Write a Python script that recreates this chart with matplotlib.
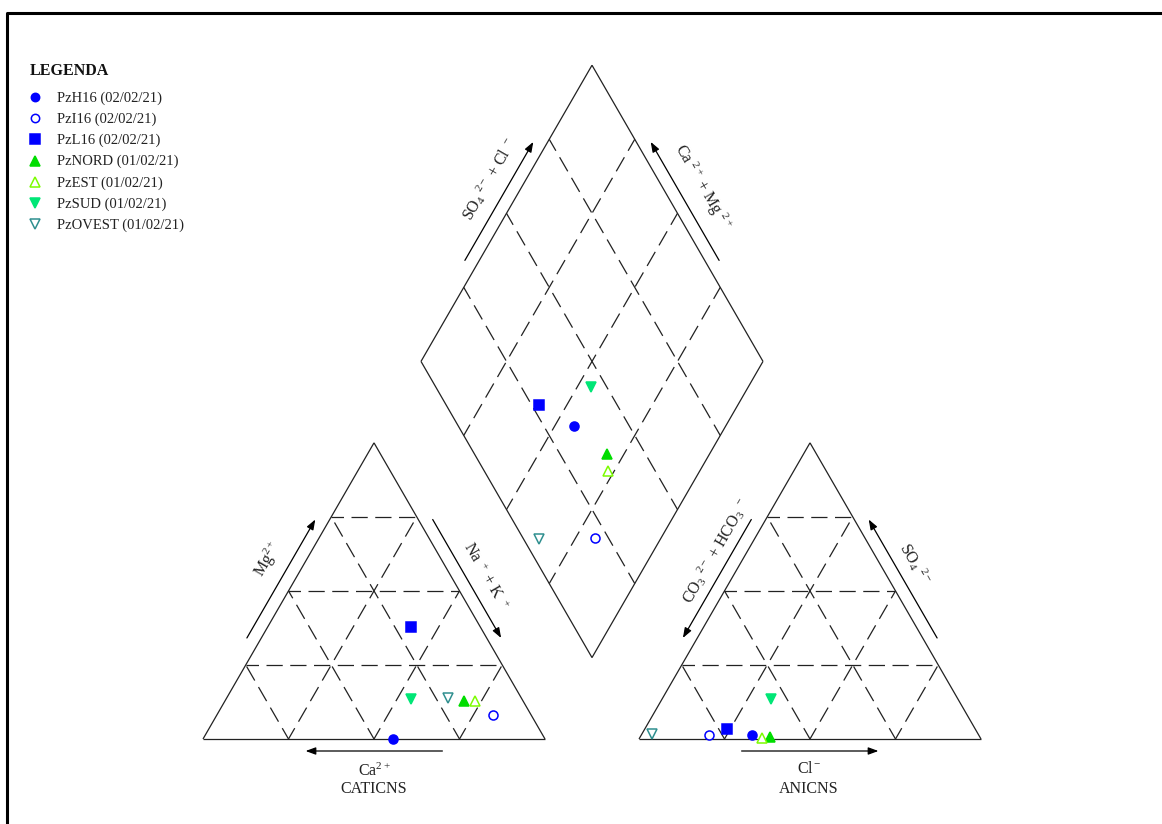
import numpy as np
import matplotlib.pyplot as plt
from matplotlib.lines import Line2D

plt.rcParams['font.family'] = ['Liberation Serif', 'DejaVu Serif']
plt.rcParams['mathtext.fontset'] = 'custom'
plt.rcParams['mathtext.rm'] = 'Liberation Serif'
plt.rcParams['mathtext.it'] = 'Liberation Serif:italic'
plt.rcParams['mathtext.default'] = 'regular'

# sample data (% meq)
samples = ['PzH16 (02/02/21)', 'PzI16 (02/02/21)', 'PzL16 (02/02/21)',
           'PzNORD (01/02/21)', 'PzEST (01/02/21)', 'PzSUD (01/02/21)',
           'PzOVEST (01/02/21)']
ca = [44.4, 11.1, 20.2, 17.2, 14.0, 32.5, 21.5]
mg = [0.0, 8.1, 37.9, 12.9, 12.9, 13.4, 13.9]
na_k = [55.6, 80.8, 41.9, 69.9, 73.1, 54.1, 64.6]
hco3 = [66.3, 78.8, 72.7, 61.4, 64.0, 54.7, 95.4]
so4 = [1.4, 1.4, 3.3, 0.6, 0.2, 13.4, 1.7]
cl = [32.3, 19.8, 24.0, 38.0, 35.8, 31.9, 2.9]

markers = ['o', 'o', 's', '^', '^', 'v', 'v']
colors = ['#0000ff', '#0000ff', '#0000ff', '#00dd00', '#7cfc00', '#00e676', '#2f8f8f']
filled = [True, False, True, True, False, True, False]

# layout: triangle side = 1 unit = 342 px
S = 342.0
X0, Y0 = 203.0, 739.0
h = np.sqrt(3) / 2
g = 94 / S


def px(x, y):
    return (x - X0) / S, (Y0 - y) / S


fig = plt.figure(figsize=(11.62, 8.24), dpi=100)
ax = fig.add_axes([0, 0, 1, 1])
ax.set_xlim(-X0 / S, (1162 - X0) / S)
ax.set_ylim(-(824 - Y0) / S, Y0 / S)
ax.set_axis_off()

edge_kw = dict(color='#222222', lw=0.9, solid_capstyle='butt')
dash_kw = dict(color='#222222', lw=0.9, linestyle=(3, (13, 6)))


def seg(p, q, **kw):
    ax.plot([p[0], q[0]], [p[1], q[1]], **kw)


def triangle(x0):
    a, b, c = np.array([x0, 0]), np.array([x0 + 1, 0]), np.array([x0 + 0.5, h])
    seg(a, b, **edge_kw)
    seg(b, c, **edge_kw)
    seg(c, a, **edge_kw)
    for f in (0.25, 0.5, 0.75):
        seg((x0 + f / 2, f * h), (x0 + 1 - f / 2, f * h), **dash_kw)
        seg((x0 + f, 0), (x0 + f + (1 - f) / 2, (1 - f) * h), **dash_kw)
        seg((x0 + f, 0), (x0 + f / 2, f * h), **dash_kw)
    return a, b, c


A1, B1, C1 = triangle(0)
A2, B2, C2 = triangle(1 + g)

D0 = np.array([1 + g / 2, g * h])
uL = np.array([-0.5, h])
uR = np.array([0.5, h])
DL, DR, DT = D0 + uL, D0 + uR, D0 + uL + uR
for p, q in [(D0, DL), (DL, DT), (DT, DR), (DR, D0)]:
    seg(p, q, **edge_kw)
for f in (0.25, 0.5, 0.75):
    seg(D0 + f * uL, D0 + f * uL + uR, **dash_kw)
    seg(D0 + f * uR, D0 + f * uR + uL, **dash_kw)


def side_arrow(p, q, normal, f0, f1, reverse=False, off=12.5 / S):
    p, q = np.array(p), np.array(q)
    n = np.array(normal) / np.linalg.norm(normal)
    t = p + f0 * (q - p) + n * off
    hd = p + f1 * (q - p) + n * off
    if reverse:
        t, hd = hd, t
    ax.annotate('', xy=hd, xytext=t,
                arrowprops=dict(arrowstyle='-|>,head_length=0.6,head_width=0.22',
                                color='black', lw=0.9, mutation_scale=10,
                                shrinkA=0, shrinkB=0))


def side_label(p, q, normal, f, dist, text, rot):
    p, q = np.array(p), np.array(q)
    n = np.array(normal) / np.linalg.norm(normal)
    pos = p + f * (q - p) + n * dist / S
    ax.text(pos[0], pos[1], text, rotation=rot, rotation_mode='anchor',
            ha='center', va='center', fontsize=11.5, color='#222222')


nl = (-h, 0.5)   # outward normal of a left edge
nr = (h, 0.5)    # outward normal of a right edge
nb = (0, -1)

# cation triangle
side_arrow(A1, C1, nl, 0.32, 0.72)
side_label(A1, C1, nl, 0.55, 33, r'Mg$^{2+}$', 60)
side_arrow(B1, C1, nr, 0.32, 0.72, reverse=True)
side_label(B1, C1, nr, 0.50, 30, r'Na $^+$ + K $^+$', -60)
side_arrow(A1, B1, nb, 0.30, 0.70, reverse=True, off=12 / S)
ax.text(*px(374, 771), r'Ca$^{2+}$', ha='center', va='center', fontsize=11.5, color='#222222')
ax.text(*px(374, 789), 'CATICNS', ha='center', va='center', fontsize=11.5, color='#222222')

# anion triangle
side_arrow(A2, C2, nl, 0.32, 0.72, reverse=True)
side_label(A2, C2, nl, 0.59, 27, r'CO$_3$ $^{2-}$ + HCO$_3$ $^-$', 60)
side_arrow(B2, C2, nr, 0.32, 0.72)
side_label(B2, C2, nr, 0.54, 30, r'SO$_4$ $^{2-}$', -60)
side_arrow(A2, B2, nb, 0.30, 0.70, off=12 / S)
ax.text(*px(809, 769), r'Cl$^-$', ha='center', va='center', fontsize=11.5, color='#222222')
ax.text(*px(809, 789), 'ANICNS', ha='center', va='center', fontsize=11.5, color='#222222')

# diamond
side_arrow(DL, DT, nl, 0.32, 0.72)
side_label(DL, DT, nl, 0.56, 32, r'SO$_4$ $^{2-}$ + Cl $^-$', 60)
side_arrow(DR, DT, nr, 0.32, 0.72)
side_label(DR, DT, nr, 0.53, 34, r'Ca $^{2+}$ + Mg $^{2+}$', -60)

# data points
ca_a, mg_a, nak_a = np.array(ca) / 100, np.array(mg) / 100, np.array(na_k) / 100
so4_a, cl_a = np.array(so4) / 100, np.array(cl) / 100
cat_x, cat_y = nak_a + mg_a / 2, mg_a * h
an_x, an_y = 1 + g + cl_a + so4_a / 2, so4_a * h
cm, sc = ca_a + mg_a, so4_a + cl_a
dia_x, dia_y = D0[0] + 0.5 * (sc - cm), D0[1] + h * (cm + sc)

sizes = {'o': 6.5, 's': 7, '^': 7, 'v': 7}
for i, name in enumerate(samples):
    kw = dict(marker=markers[i], linestyle='none', ms=sizes[markers[i]],
              markeredgecolor=colors[i], mew=1.1,
              markerfacecolor=colors[i] if filled[i] else 'white')
    ax.plot([cat_x[i], an_x[i], dia_x[i]], [cat_y[i], an_y[i], dia_y[i]], **kw)
    lx, ly = px(35, 97 + 21.2 * i)
    kw['ms'] = kw['ms'] - 0.5
    ax.plot([lx], [ly], **kw)
    ax.text(*px(57, 98 + 21.2 * i), name, ha='left', va='center', fontsize=10.5,
            color='#222222')

ax.text(*px(30, 71), 'LEGENDA', ha='left', va='center', fontsize=11.5,
        fontweight='bold', color='#111111')

# frame (top and left borders)
fig.add_artist(Line2D([7, 7, 1162], [0, 811.5, 811.5], transform=None,
                      color='black', lw=2.2))

fig.savefig('out.png', dpi=100)
